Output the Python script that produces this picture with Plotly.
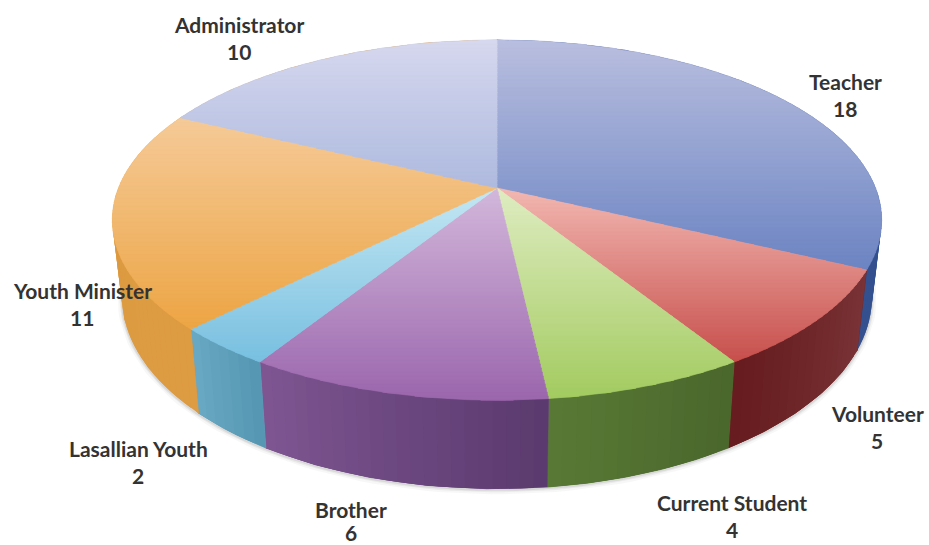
import numpy as np
import plotly.graph_objects as go

categories = ["Teacher", "Volunteer", "Current Student", "Brother",
              "Lasallian Youth", "Youth Minister", "Administrator"]
values = [18, 5, 4, 6, 2, 11, 10]

# top-face vertical gradient: (colour at top of slice, colour at bottom of slice)
top_colors = [("#b9bfdf", "#6c84c3"), ("#f3b8b2", "#c74f4c"), ("#dfecc2", "#a3cb60"),
              ("#d3b8db", "#9b66ad"), ("#c4e7f3", "#78bfe0"), ("#f5ca98", "#eda544"),
              ("#d6d8ee", "#aebadf")]
# side-wall gradient along the rim: (start angle colour, end angle colour)
side_colors = [("#2c4a8c", "#34508f"), ("#7a3437", "#661c1e"), ("#4a662c", "#587a35"),
               ("#5a3a6e", "#7f5692"), ("#5596b2", "#6aa9c3"), ("#dd9b42", "#dc9a40"),
               ("#dc9a40", "#dc9a40")]
label_pos = [(845, 81, 108), (877, 413, 440), (732, 502, 529), (351, 509, 532),
             (138, 448, 475), (82, 290, 317), (239, 24, 51)]

W, H = 929, 545
CX, CY, A, B, K = 497.0, 188.0, 378.5, 174.4, 0.178
A_BOT, CY_BOT, B_BOT = 369.0, 263.0, 185.6


def project_top(theta):
    u, v = np.sin(theta), np.cos(theta)
    d = 1 + K * v
    return CX + A * u / d, CY - B * v / d


def project_bottom(theta):
    u, v = np.sin(theta), np.cos(theta)
    d = 1 + K * v
    return CX + A_BOT * u / d, CY_BOT - B_BOT * v / d


def hex2rgb(c):
    return np.array([int(c[i:i + 2], 16) for i in (1, 3, 5)], dtype=float)


def mix(c0, c1, t):
    r = hex2rgb(c0) * (1 - t) + hex2rgb(c1) * t
    return "rgb(%d,%d,%d)" % tuple(np.round(r))


def clip(poly, limit, keep_below):
    out = []
    n = len(poly)
    for i in range(n):
        p, q = poly[i], poly[(i + 1) % n]
        ip = p[1] >= limit if keep_below else p[1] <= limit
        iq = q[1] >= limit if keep_below else q[1] <= limit
        if ip:
            out.append(p)
        if ip != iq:
            t = (limit - p[1]) / (q[1] - p[1])
            out.append((p[0] + t * (q[0] - p[0]), limit))
    return out


def add_poly(fig, xs, ys, color, lw=0.7):
    fig.add_trace(go.Scatter(x=xs, y=ys, mode="lines", fill="toself", fillcolor=color,
                             line=dict(color=color, width=lw), hoverinfo="skip",
                             showlegend=False))


def wall(fig, a0, a1, color, lw):
    sub = np.linspace(a0, a1, 6)
    tx, ty = project_top(sub)
    qx, qy = project_bottom(sub[::-1])
    add_poly(fig, np.r_[tx, qx, tx[0]], np.r_[ty, qy, ty[0]], color, lw)


fig = go.Figure()
total = sum(values)
edges = np.concatenate([[0], np.cumsum(values)]) / total * 2 * np.pi

# soft shadow under the front rim
tt = np.linspace(np.pi * 0.45, np.pi * 1.55, 120)
bx, by = project_bottom(tt)
for width, alpha in ((9, 0.05), (5, 0.08), (2.5, 0.12)):
    fig.add_trace(go.Scatter(x=bx, y=by + 1, mode="lines", hoverinfo="skip", showlegend=False,
                             line=dict(color="rgba(90,90,90,%g)" % alpha, width=width)))

# side walls: a base wall per slice, then overlapping strips for the gradient
for i in range(len(values)):
    a0, a1 = edges[i], edges[i + 1]
    wall(fig, a0, a1, mix(*side_colors[i], 0.5), 0.7)
    n = max(2, int((a1 - a0) / 0.03))
    ang = np.linspace(a0, a1, n + 1)
    for j in range(n):
        wall(fig, ang[j], ang[min(j + 2, n)], mix(*side_colors[i], (j + 0.5) / n), 0)

# top faces, painted as horizontal bands
STEP = 4
for i in range(len(values)):
    arc = np.linspace(edges[i], edges[i + 1], 90)
    ax, ay = project_top(arc)
    poly = [(CX, CY)] + list(zip(ax.tolist(), ay.tolist()))
    ymin, ymax = min(p[1] for p in poly), max(p[1] for p in poly)
    y = ymin
    while y < ymax:
        band = clip(clip(poly, y, True), y + STEP + 1, False)
        if len(band) >= 3:
            xs = [p[0] for p in band] + [band[0][0]]
            ys = [p[1] for p in band] + [band[0][1]]
            add_poly(fig, xs, ys, mix(*top_colors[i], min(1, (y + STEP / 2 - ymin) / (ymax - ymin))))
        y += STEP

# labels
FONT = dict(family="Lato, Carlito, sans-serif", size=21, color="#333333")
for name, val, (lx, y0, y1) in zip(categories, values, label_pos):
    fig.add_annotation(x=lx, y=y0, text="<b>%s</b>" % name, showarrow=False, font=FONT)
    fig.add_annotation(x=lx, y=y1, text="<b>%d</b>" % val, showarrow=False, font=FONT)

fig.update_layout(width=W, height=H, margin=dict(l=0, r=0, t=0, b=0), autosize=False,
                  paper_bgcolor="white", plot_bgcolor="white", showlegend=False,
                  xaxis=dict(range=[0, W], visible=False, fixedrange=True),
                  yaxis=dict(range=[H, 0], visible=False, fixedrange=True))
fig.write_html("out.html", config=dict(displayModeBar=False),
               post_script="document.body.style.margin='0';document.documentElement.style.overflow='hidden';")
